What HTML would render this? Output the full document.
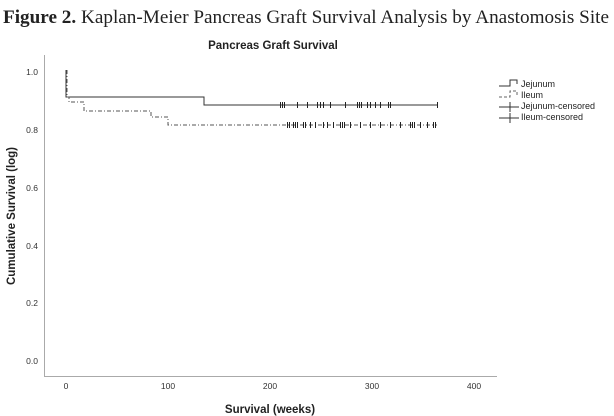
<!DOCTYPE html>
<html><head><meta charset="utf-8"><style>
html,body{margin:0;padding:0;background:#fff;}
svg{display:block;}
</style></head><body>
<svg id="s" width="614" height="416" viewBox="0 0 614 416" xmlns="http://www.w3.org/2000/svg">
<text x="3" y="23" font-family="Liberation Serif, serif" font-size="19" fill="#222" textLength="606" lengthAdjust="spacingAndGlyphs"><tspan font-weight="bold">Figure 2.</tspan> Kaplan-Meier Pancreas Graft Survival Analysis by Anastomosis Site</text>
<text x="273" y="49" text-anchor="middle" font-family="Liberation Sans, sans-serif" font-size="11.5" font-weight="bold" fill="#222">Pancreas Graft Survival</text>
<g stroke="#aaa" stroke-width="1" fill="none">
<line x1="44.5" y1="55" x2="44.5" y2="376.5"/>
<line x1="44" y1="376.5" x2="497" y2="376.5"/>
</g>
<g font-family="Liberation Sans, sans-serif" font-size="8.5" fill="#333" text-anchor="end">
<text x="38" y="75">1.0</text><text x="38" y="133">0.8</text><text x="38" y="191">0.6</text>
<text x="38" y="249">0.4</text><text x="38" y="306">0.2</text><text x="38" y="364">0.0</text>
</g>
<g font-family="Liberation Sans, sans-serif" font-size="8.5" fill="#333" text-anchor="middle">
<text x="66" y="389">0</text><text x="168" y="389">100</text><text x="270" y="389">200</text><text x="372" y="389">300</text><text x="474" y="389">400</text>
</g>
<text x="270" y="413" text-anchor="middle" font-family="Liberation Sans, sans-serif" font-size="11.5" font-weight="bold" fill="#222">Survival (weeks)</text>
<text transform="translate(15,216) rotate(-90)" text-anchor="middle" font-family="Liberation Sans, sans-serif" font-size="11.5" font-weight="bold" fill="#222">Cumulative Survival (log)</text>
<polyline fill="none" stroke="#333" stroke-width="1" points="66,70 66,97 204,97 204,105 437,105"/>
<polyline fill="none" stroke="#555" stroke-width="1" stroke-dasharray="4,2,1,2" points="67,70 67,97 69,97 69,102 84,102 84,111 151,111 151,117 168,117 168,125 437,125"/>
<g id="cens" stroke="#222" stroke-width="1"></g>
<g font-family="Liberation Sans, sans-serif" font-size="9" fill="#222">
<polyline fill="none" stroke="#333" points="499,86 510,86 510,80 517,80 517,84"/><text x="521" y="87">Jejunum</text>
<polyline fill="none" stroke="#666" stroke-dasharray="3,2" points="499,97 510,97 510,91 517,91 517,95"/><text x="521" y="98">Ileum</text>
<line x1="499" y1="107" x2="519" y2="107" stroke="#333"/><line x1="510" y1="102" x2="510" y2="112" stroke="#333"/><text x="521" y="109">Jejunum-censored</text>
<line x1="499" y1="118" x2="519" y2="118" stroke="#333"/><line x1="510" y1="113" x2="510" y2="123" stroke="#333"/><text x="521" y="120">Ileum-censored</text>
</g>
<script>
var g=document.getElementById('cens');
var J=[280,282,284,297,307,317,320,323,330,345,357,359,361,367,370,375,380,388,390,437];
var I=[287,289,293,295,297,303,305,310,315,323,327,333,340,342,344,350,360,370,380,390,400,410,412,414,420,427,433,435];
function add(xs,y){xs.forEach(function(x){var l=document.createElementNS('http://www.w3.org/2000/svg','line');l.setAttribute('x1',x+0.5);l.setAttribute('x2',x+0.5);l.setAttribute('y1',y-3);l.setAttribute('y2',y+3);g.appendChild(l);});}
add(J,105);add(I,125);
</script>
</svg>
</body></html>
